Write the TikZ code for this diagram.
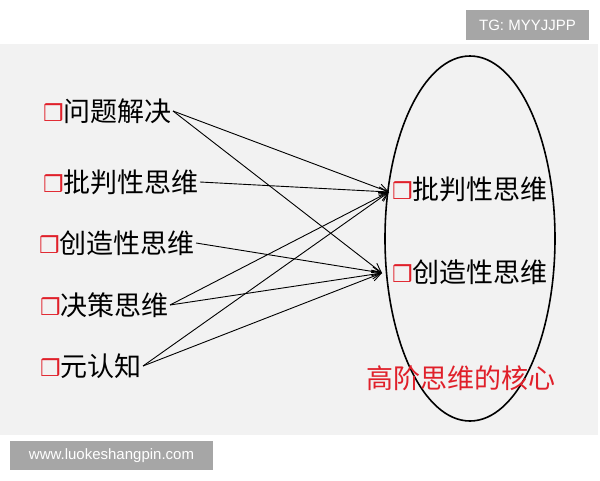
\documentclass[tikz,border=0pt]{standalone}
\usepackage{fontspec}
\setmainfont{Noto Sans CJK SC}
\newfontfamily\symfont{DejaVu Sans}
\newfontfamily\tagfont{Liberation Sans}
\usetikzlibrary{positioning,arrows.meta}

\definecolor{bandgray}{HTML}{F2F2F2}
\definecolor{taggray}{HTML}{A6A6A6}
\definecolor{corered}{HTML}{E0202A}

% little red box in front of every item
\newcommand{\bx}{{\color{corered}\fontsize{23}{23}\symfont ❒}}

\begin{document}
\begin{tikzpicture}[x=1pt,y=-1pt,
	item/.style={anchor=west, inner sep=1pt, font=\fontsize{27}{31}\selectfont},
	tagbox/.style={fill=taggray, text=white, inner sep=0pt, font=\tagfont\fontsize{15}{17}\selectfont},
	link/.style={-{Straight Barb[length=9pt,width=9pt]}, line width=0.9pt}]
	
	% Parameters
	\def\picw{600}
	\def\pich{480}
	\def\ellx{470}
	\def\elly{238.5}
	
	\useasboundingbox (0,0) rectangle (\picw,\pich);
	
	% background band
	\fill[bandgray] (0,44) rectangle (598,435);
	
	% tags
	\node[tagbox, minimum width=123pt, minimum height=30pt] (tg) at (527.5,25) {TG: MYYJJPP};
	\node[tagbox, minimum width=203pt, minimum height=29pt] (web) at (111.5,455.5) {www.luokeshangpin.com};
	
	% core ellipse
	\draw[line width=1.6pt] (\ellx,\elly) ellipse [x radius=85, y radius=182.5];
	
	% left items
	\node[item] (wtjj) at (42,111) {\bx 问题解决};
	\node[item] (ppsw) at (42,182) {\bx 批判性思维};
	\node[item] (czsw) at (38,243) {\bx 创造性思维};
	\node[item] (jcsw) at (39,305) {\bx 决策思维};
	\node[item] (yrz) at (39,366) {\bx 元认知};
	
	% right items
	\node[item] (ppcore) at (391,189) {\bx 批判性思维};
	\node[item] (czcore) at (391,272) {\bx 创造性思维};
	\node[item, anchor=center, text=corered] (gjsw) at (461,378) {高阶思维的核心};
	
	\coordinate (ppin) at (389,192);
	\coordinate (czin) at (382,273);
	
	% links
	\foreach \src in {wtjj,ppsw,jcsw,yrz} {
		\draw[link] (\src.east) -- (ppin);
	}
	\foreach \src in {wtjj,czsw,jcsw,yrz} {
		\draw[link] (\src.east) -- (czin);
	}
	
\end{tikzpicture}
\end{document}
